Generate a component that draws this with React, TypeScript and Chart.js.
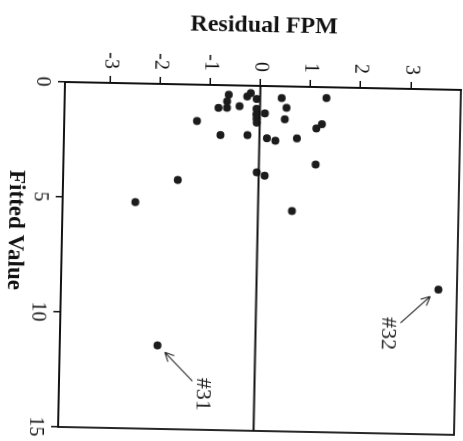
import React, { useEffect, useRef } from "react";
import { Chart, registerables } from "chart.js";

Chart.register(...registerables);

// Observations: fitted value (x) and residual FPM (y)
const fittedValues = [
  0.41, 0.70, 0.98, 0.99, 0.90, 0.32, 0.47, 0.57, 1.00, 1.24, 1.19, 1.43, 1.60,
  0.51, 0.93, 1.43, 0.47, 1.61, 1.80, 1.58, 2.17, 2.15, 2.27, 2.37, 2.25, 3.37,
  3.76, 3.90, 5.41, 4.16, 11.37, 8.70, 5.16,
];
const residualValues = [
  -0.63, -0.66, -0.66, -0.83, -0.41, -0.19, -0.26, -0.07, -0.07, -0.07, 0.10,
  -0.065, -0.06, 0.43, 0.53, 0.50, 1.32, 1.24, 1.13, -1.25, -0.78, -0.24, 0.15,
  0.32, 0.75, 1.13, -0.04, 0.12, 0.68, -1.61, -1.95, 3.63, -2.45,
];
const fittedTicks = [0, 5, 10, 15];
const residualTicks = [-3, -2, -1, 0, 1, 2, 3];
const annotatedIndex = [30, 31];
const annotatedLabels = ["#31", "#32"];
const xTitle = "Fitted Value";
const yTitle = "Residual FPM";

const SERIF = "'Liberation Serif', 'Times New Roman', serif";

export default function App() {
  const ref = useRef<HTMLCanvasElement | null>(null);

  useEffect(() => {
    if (!ref.current) return;
    const points = fittedValues.map((x, i) => ({ x, y: residualValues[i] }));

    const framePlugin = {
      id: "frame",
      afterDraw(chart: any) {
        const { ctx, chartArea, height } = chart;
        ctx.save();
        ctx.strokeStyle = "#111";
        ctx.lineWidth = 1.8;
        ctx.strokeRect(chartArea.left, chartArea.top, chartArea.right - chartArea.left, chartArea.bottom - chartArea.top);
        // x-axis title
        ctx.fillStyle = "#111";
        ctx.font = `bold 23px ${SERIF}`;
        ctx.textAlign = "center";
        ctx.textBaseline = "middle";
        ctx.fillText(xTitle, chartArea.left + 149, height - 18);
        ctx.restore();
      },
    };

    const notePlugin = {
      id: "notes",
      afterDatasetsDraw(chart: any) {
        const { ctx, scales } = chart;
        const offsets = [
          { head: [6.7, -7.4], tail: [35, -35.7], text: [48, -46] },
          { head: [7, 8], tail: [34, 37], text: [45, 50] },
        ];
        ctx.save();
        ctx.strokeStyle = "#222";
        ctx.fillStyle = "#222";
        ctx.lineWidth = 1.1;
        annotatedIndex.forEach((idx, k) => {
          const px = scales.x.getPixelForValue(fittedValues[idx]);
          const py = scales.y.getPixelForValue(residualValues[idx]);
          const o = offsets[k];
          const hx = px + o.head[0], hy = py + o.head[1];
          const tx = px + o.tail[0], ty = py + o.tail[1];
          ctx.beginPath();
          ctx.moveTo(tx, ty);
          ctx.lineTo(hx, hy);
          const ang = Math.atan2(hy - ty, hx - tx);
          const L = 10;
          for (const s of [-0.45, 0.45]) {
            ctx.moveTo(hx, hy);
            ctx.lineTo(hx - L * Math.cos(ang + s), hy - L * Math.sin(ang + s));
          }
          ctx.stroke();
          ctx.font = `22px ${SERIF}`;
          ctx.textAlign = "center";
          ctx.textBaseline = "middle";
          ctx.fillText(annotatedLabels[k], px + o.text[0], py + o.text[1]);
        });
        ctx.restore();
      },
    };

    const chart = new Chart(ref.current, {
      type: "scatter",
      data: {
        datasets: [
          {
            type: "line",
            data: [
              { x: fittedTicks[0], y: 0 },
              { x: fittedTicks[fittedTicks.length - 1], y: 0 },
            ],
            borderColor: "#111",
            borderWidth: 1.8,
            pointRadius: 0,
            fill: false,
          } as any,
          {
            data: points,
            pointRadius: 4,
            pointBackgroundColor: "#1c1c1c",
            pointBorderWidth: 0,
          },
        ],
      },
      options: {
        animation: false,
        responsive: false,
        events: [],
        layout: { padding: { top: 12, right: 8, left: 0, bottom: 0 } },
        plugins: { legend: { display: false }, tooltip: { enabled: false } },
        scales: {
          x: {
            type: "linear",
            min: 0,
            max: 15,
            afterFit(scale: any) {
              scale.height = 65;
            },
            afterBuildTicks(scale: any) {
              scale.ticks = fittedTicks.map((v) => ({ value: v }));
            },
            ticks: {
              color: "#111",
              font: { family: SERIF, size: 20 },
              padding: 4,
              maxRotation: 0,
              minRotation: 0,
              autoSkip: false,
            },
            grid: { drawOnChartArea: false, drawTicks: true, tickLength: 7, color: "#111", lineWidth: 1.5 },
            border: { display: true, color: "#111", width: 1.8 },
            title: { display: false },
          },
          y: {
            type: "linear",
            min: -3.9,
            max: 4.0,
            afterFit(scale: any) {
              scale.width = 82;
            },
            afterBuildTicks(scale: any) {
              scale.ticks = residualTicks.map((v) => ({ value: v }));
            },
            ticks: {
              color: "#111",
              font: { family: SERIF, size: 20 },
              padding: 7,
              autoSkip: false,
            },
            grid: { drawOnChartArea: false, drawTicks: true, tickLength: 7, color: "#111", lineWidth: 1.5 },
            border: { display: true, color: "#111", width: 1.8 },
            title: {
              display: true,
              text: yTitle,
              color: "#111",
              font: { family: SERIF, size: 24, weight: "bold", lineHeight: 1 },
              padding: { top: 10, bottom: 0 },
            },
          },
        },
      },
      plugins: [framePlugin, notePlugin],
    });
    return () => chart.destroy();
  }, []);

  return (
    <div
      style={{
        position: "fixed",
        left: 0,
        top: 0,
        width: 463,
        height: 441,
        overflow: "hidden",
        background: "#fff",
      }}
    >
      <div
        style={{
          position: "absolute",
          left: 0,
          top: 0,
          width: 441,
          height: 480,
          transformOrigin: "0 0",
          transform:
            "translate(65px,82px) rotate(1.15deg) translate(-65px,-82px) translate(480px,0px) rotate(90deg)",
        }}
      >
        <canvas ref={ref} width={441} height={480} style={{ display: "block" }} />
      </div>
    </div>
  );
}
